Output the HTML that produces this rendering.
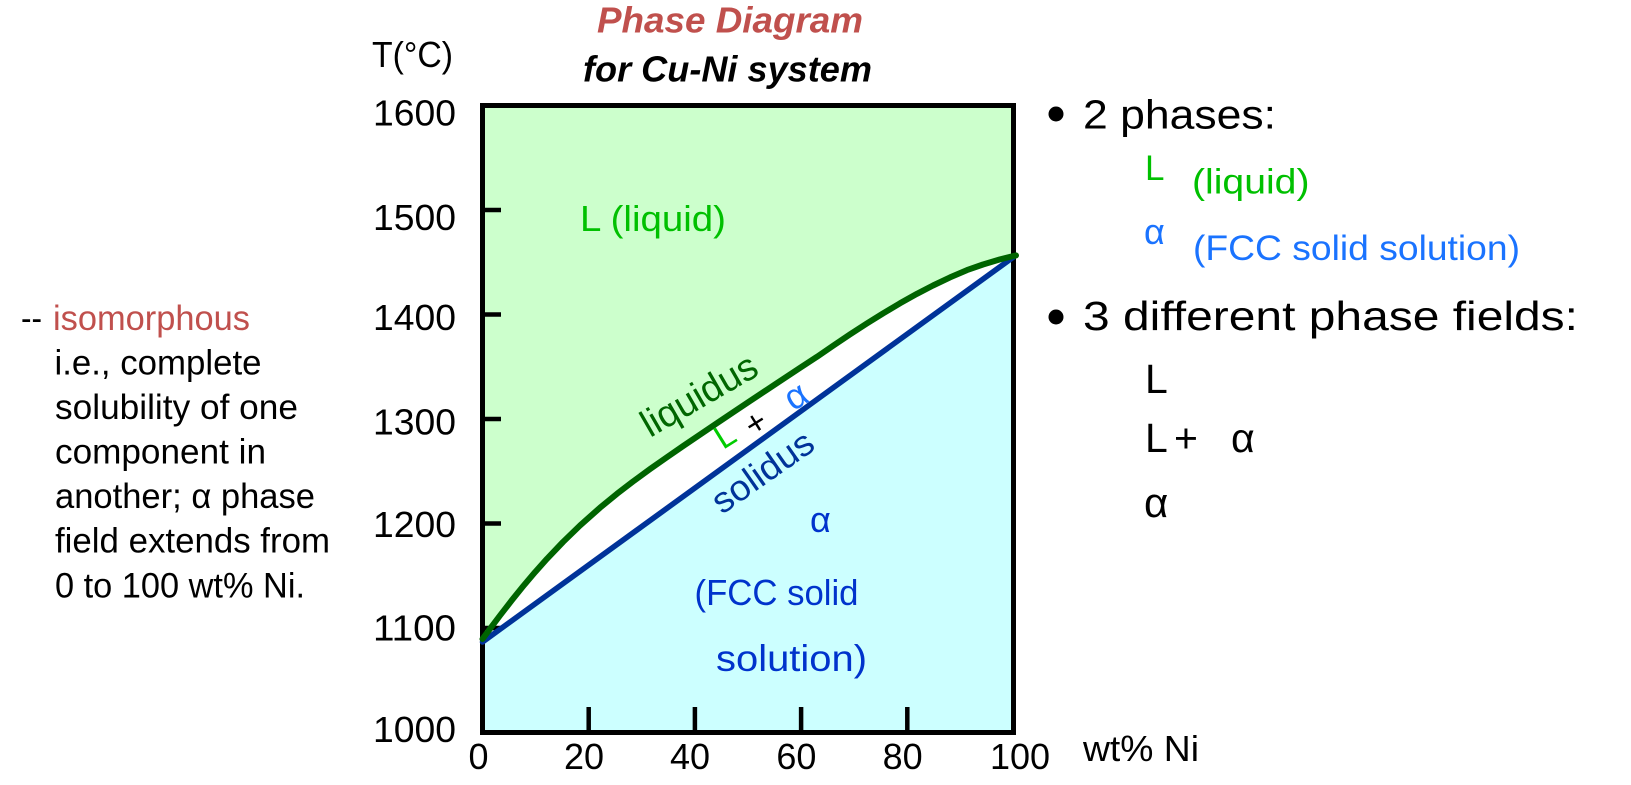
<!DOCTYPE html>
<html>
<head>
<meta charset="utf-8">
<style>
  html, body { margin: 0; padding: 0; background: #ffffff; }
  svg { display: block; }
  text { font-family: "Liberation Sans", "DejaVu Sans", sans-serif; }
</style>
</head>
<body>
<svg width="1631" height="785" viewBox="0 0 1631 785" xmlns="http://www.w3.org/2000/svg">
  <rect x="0" y="0" width="1631" height="785" fill="#ffffff"/>

  <!-- Title -->
  <text x="597" y="32.5" font-size="36" font-weight="bold" font-style="italic" fill="#c0504d" textLength="266" lengthAdjust="spacingAndGlyphs">Phase Diagram</text>
  <text x="583" y="81.5" font-size="36" font-weight="bold" font-style="italic" fill="#000000" textLength="289" lengthAdjust="spacingAndGlyphs">for Cu-Ni system</text>

  <!-- Y axis title -->
  <text x="372" y="67" font-size="36" fill="#000" textLength="81" lengthAdjust="spacingAndGlyphs">T(°C)</text>

  <!-- Fills -->
  <path d="M482.5,639 L490,628.8 L500,615.5 L512,600 L523,586.4 L535,572.2 L547,558.8 L563,542 L580,525.5 L600,507.7 L617,493.8 L633,481.5 L650,469.1 L667,457.2 L683,446.1 L700,434.6 L717,423.1 L733,412.4 L750,401 L767,389.7 L783,379.1 L800,367.9 L817,356.8 L833,345.8 L850,334.4 L867,323.4 L883,313.4 L900,303.3 L917,293.8 L933,285.5 L950,277.4 L967,270.1 L983,264.5 L1000,259.4 L1013.5,256 L1013.5,105.5 L482.5,105.5 Z" fill="#ccffcc"/>
  <path d="M482.5,642 L1013.5,257 L1013.5,732.5 L482.5,732.5 Z" fill="#ccffff"/>

  <!-- Y ticks -->
  <g stroke="#000" stroke-width="4.5">
    <line x1="482.5" y1="628" x2="501" y2="628"/>
    <line x1="482.5" y1="523.5" x2="501" y2="523.5"/>
    <line x1="482.5" y1="419" x2="501" y2="419"/>
    <line x1="482.5" y1="314.5" x2="501" y2="314.5"/>
    <line x1="482.5" y1="210" x2="501" y2="210"/>
  </g>
  <!-- X ticks -->
  <g stroke="#000" stroke-width="4.5">
    <line x1="588.7" y1="732.5" x2="588.7" y2="707"/>
    <line x1="694.9" y1="732.5" x2="694.9" y2="707"/>
    <line x1="801.1" y1="732.5" x2="801.1" y2="707"/>
    <line x1="907.3" y1="732.5" x2="907.3" y2="707"/>
  </g>

  <!-- Frame -->
  <rect x="482.5" y="105.5" width="531" height="627" fill="none" stroke="#000" stroke-width="5"/>

  <!-- Solidus -->
  <path d="M482.5,642 L1013.5,257" fill="none" stroke="#003399" stroke-width="5.5" stroke-linecap="round"/>
  <!-- Liquidus -->
  <path d="M482.5,639 L490,628.8 L500,615.5 L512,600 L523,586.4 L535,572.2 L547,558.8 L563,542 L580,525.5 L600,507.7 L617,493.8 L633,481.5 L650,469.1 L667,457.2 L683,446.1 L700,434.6 L717,423.1 L733,412.4 L750,401 L767,389.7 L783,379.1 L800,367.9 L817,356.8 L833,345.8 L850,334.4 L867,323.4 L883,313.4 L900,303.3 L917,293.8 L933,285.5 L950,277.4 L967,270.1 L983,264.5 L1000,259.4 L1013.5,256 L1016,255.4" fill="none" stroke="#006400" stroke-width="6" stroke-linejoin="round" stroke-linecap="round"/>

  <!-- Y labels -->
  <g font-size="36" fill="#000">
    <text x="373" y="125.5" textLength="83" lengthAdjust="spacingAndGlyphs">1600</text>
    <text x="373" y="230" textLength="83" lengthAdjust="spacingAndGlyphs">1500</text>
    <text x="373" y="330" textLength="83" lengthAdjust="spacingAndGlyphs">1400</text>
    <text x="373" y="434.5" textLength="83" lengthAdjust="spacingAndGlyphs">1300</text>
    <text x="373" y="537" textLength="83" lengthAdjust="spacingAndGlyphs">1200</text>
    <text x="373" y="640.5" textLength="83" lengthAdjust="spacingAndGlyphs">1100</text>
    <text x="373" y="742" textLength="83" lengthAdjust="spacingAndGlyphs">1000</text>
  </g>
  <!-- X labels -->
  <g font-size="36" fill="#000" text-anchor="middle">
    <text x="478.5" y="769">0</text>
    <text x="584" y="769">20</text>
    <text x="690" y="769">40</text>
    <text x="796.4" y="769">60</text>
    <text x="902.6" y="769">80</text>
    <text x="1020" y="769">100</text>
  </g>
  <text x="1083" y="761" font-size="36" fill="#000" textLength="116" lengthAdjust="spacingAndGlyphs">wt% Ni</text>

  <!-- In-plot labels -->
  <text x="580" y="231" font-size="36" fill="#00c000" textLength="146" lengthAdjust="spacingAndGlyphs">L (liquid)</text>
  <text transform="translate(650,438) rotate(-30)" font-size="38" fill="#006600" textLength="128" lengthAdjust="spacingAndGlyphs">liquidus</text>
  <text transform="translate(722,515) rotate(-35)" font-size="36" fill="#003399" textLength="116" lengthAdjust="spacingAndGlyphs">solidus</text>
  <text transform="translate(723,450) rotate(-32)" font-size="33" fill="#00cc00">L</text>
  <text transform="translate(755.8,423.3) rotate(-32)" x="0" y="11" font-size="34" fill="#000" text-anchor="middle">+</text>
  <text transform="translate(797,398) rotate(-32)" x="0" y="9.5" font-size="36" fill="#1a73ff" text-anchor="middle">α</text>

  <text x="810" y="532" font-size="36" fill="#0033cc">α</text>
  <text x="694.5" y="605" font-size="36" fill="#0033cc" textLength="164" lengthAdjust="spacingAndGlyphs">(FCC solid</text>
  <text x="716" y="671" font-size="37" fill="#0033cc" textLength="151" lengthAdjust="spacingAndGlyphs">solution)</text>

  <!-- Left text block -->
  <g font-size="35" fill="#000">
    <text x="21" y="330" textLength="21" lengthAdjust="spacingAndGlyphs">--</text>
    <text x="53" y="330" fill="#c0504d" textLength="197" lengthAdjust="spacingAndGlyphs">isomorphous</text>
    <text x="54.5" y="374.5" textLength="207" lengthAdjust="spacingAndGlyphs">i.e., complete</text>
    <text x="55" y="419" textLength="243" lengthAdjust="spacingAndGlyphs">solubility of one</text>
    <text x="55" y="463.5" textLength="211" lengthAdjust="spacingAndGlyphs">component in</text>
    <text x="55" y="508" textLength="260" lengthAdjust="spacingAndGlyphs">another; α phase</text>
    <text x="55" y="552.5" textLength="275" lengthAdjust="spacingAndGlyphs">field extends from</text>
    <text x="55" y="597.5" textLength="250" lengthAdjust="spacingAndGlyphs">0 to 100 wt% Ni.</text>
  </g>

  <!-- Right text block -->
  <circle cx="1056" cy="114" r="7.5" fill="#000"/>
  <text x="1083" y="128.5" font-size="41" fill="#000" textLength="193" lengthAdjust="spacingAndGlyphs">2 phases:</text>
  <text x="1145" y="180" font-size="35" fill="#00c000">L</text>
  <text x="1192" y="193.5" font-size="35" fill="#00c000" textLength="117.5" lengthAdjust="spacingAndGlyphs">(liquid)</text>
  <text x="1144" y="244" font-size="36" fill="#1a73ff">α</text>
  <text x="1193" y="260" font-size="35" fill="#1a73ff" textLength="327" lengthAdjust="spacingAndGlyphs">(FCC solid solution)</text>

  <circle cx="1056" cy="317" r="7.5" fill="#000"/>
  <text x="1083" y="330" font-size="41" fill="#000" textLength="495" lengthAdjust="spacingAndGlyphs">3 different phase fields:</text>
  <text x="1145" y="393" font-size="41" fill="#000">L</text>
  <text x="1145" y="452" font-size="41" fill="#000">L</text>
  <text x="1174" y="452" font-size="41" fill="#000">+</text>
  <text x="1231" y="452" font-size="41" fill="#000">α</text>
  <text x="1144" y="517" font-size="42" fill="#000">α</text>
</svg>
</body>
</html>
